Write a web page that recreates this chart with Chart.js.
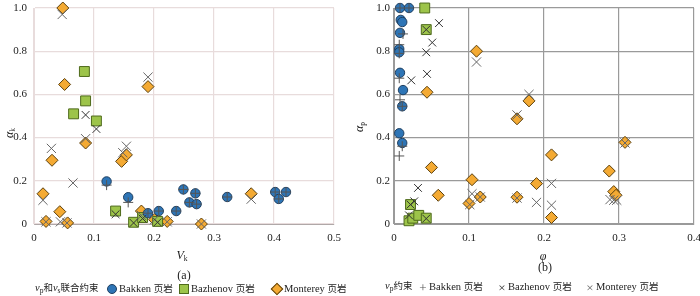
<!DOCTYPE html>
<html>
<head>
<meta charset="utf-8">
<script src="https://cdn.jsdelivr.net/npm/chart.js@4.4.1/dist/chart.umd.min.js"></script>
<style>
body{margin:0;width:700px;height:296px;overflow:hidden;background:#fff;position:relative;
  font-family:"Liberation Serif","Noto Sans CJK SC",serif;color:#222}
canvas{position:absolute;top:0}
.t{position:absolute;white-space:nowrap;line-height:1;font-size:12px;transform:translate(-50%,-50%)}
.l{position:absolute;white-space:nowrap;line-height:1;font-size:10.5px;transform:translateY(-50%)}
.k{font-size:9.5px}
.rot{transform:translate(-50%,-50%) rotate(-90deg)}
sub{font-size:7.5px;vertical-align:-2px;font-style:normal}
.mk{position:absolute;transform:translate(-50%,-50%)}
.c{width:8px;height:8px;border-radius:50%;background:#2E75B6;border:1px solid #1F3F60}
.s{width:8px;height:8px;background:#9DC44A;border:1px solid #4F6B1C}
.d{width:7px;height:7px;background:#F4AA33;border:1px solid #5A3F0C;transform:translate(-50%,-50%) rotate(45deg)}
.x{position:absolute;transform:translate(-50%,-50%);font-size:13px;line-height:1;color:#555}
</style>
</head>
<body>
<canvas id="chartA" width="350" height="250" style="left:0"></canvas>
<canvas id="chartB" width="356" height="250" style="left:350px"></canvas>

<div class="t rot" style="left:10px;top:133px"><i>α</i><sub>k</sub></div>
<div class="t" style="left:182px;top:256px"><i>V</i><sub>k</sub></div>
<div class="t" style="left:184px;top:275px">(a)</div>
<div class="l" style="left:35px;top:289px"><i>v</i><sub>p</sub><span class="k">和</span><i>v</i><sub>s</sub><span class="k">联合约束</span></div>
<div class="mk c" style="left:112px;top:289px"></div>
<div class="l" style="left:119px;top:289px">Bakken <span class="k">页岩</span></div>
<div class="mk s" style="left:184px;top:289px"></div>
<div class="l" style="left:191px;top:289px">Bazhenov <span class="k">页岩</span></div>
<div class="mk d" style="left:277px;top:289px"></div>
<div class="l" style="left:284px;top:289px">Monterey <span class="k">页岩</span></div>

<div class="t rot" style="left:360px;top:127px"><i>α</i><sub>p</sub></div>
<div class="t" style="left:543px;top:256px"><i>φ</i></div>
<div class="t" style="left:545px;top:267px">(b)</div>
<div class="l" style="left:385px;top:287px"><i>v</i><sub>p</sub><span class="k">约束</span></div>
<div class="x" style="left:423px;top:287px">+</div>
<div class="l" style="left:429px;top:287px">Bakken <span class="k">页岩</span></div>
<div class="x" style="left:502px;top:287px;color:#333">×</div>
<div class="l" style="left:508px;top:287px">Bazhenov <span class="k">页岩</span></div>
<div class="x" style="left:590px;top:287px;color:#666">×</div>
<div class="l" style="left:596px;top:287px">Monterey <span class="k">页岩</span></div>

<script>
// (a) V_k vs alpha_k
const bakkenJointA = [[0.121,0.197],[0.157,0.124],[0.19,0.05],[0.208,0.06],[0.237,0.06],[0.249,0.16],[0.259,0.10],[0.269,0.142],[0.271,0.092],[0.322,0.125],[0.402,0.148],[0.408,0.116],[0.42,0.148]]
const bakkenVpA = [[0.121,0.18],[0.157,0.10],[0.19,0.05],[0.208,0.06],[0.237,0.06],[0.249,0.16],[0.259,0.10],[0.269,0.142],[0.271,0.092],[0.322,0.125],[0.402,0.148],[0.408,0.116],[0.42,0.148]]
const bazhenovJointA = [[0.084,0.706],[0.086,0.57],[0.066,0.51],[0.104,0.477],[0.136,0.06],[0.166,0.008],[0.181,0.03],[0.206,0.012]]
const bazhenovVpA = [[0.086,0.505],[0.104,0.44],[0.136,0.045],[0.166,0.005],[0.181,0.025],[0.206,0.008]]
const montereyJointA = [[0.048,1.0],[0.051,0.646],[0.086,0.375],[0.03,0.295],[0.015,0.14],[0.043,0.057],[0.02,0.012],[0.056,0.005],[0.146,0.29],[0.154,0.32],[0.19,0.636],[0.179,0.06],[0.201,0.02],[0.222,0.012],[0.279,0.0],[0.362,0.14]]
const montereyVpA = [[0.047,0.97],[0.029,0.35],[0.015,0.11],[0.065,0.19],[0.086,0.395],[0.154,0.36],[0.148,0.33],[0.19,0.68],[0.044,0.01],[0.02,0.01],[0.055,0.005],[0.179,0.04],[0.201,0.02],[0.222,0.01],[0.279,0.0],[0.362,0.115]]

// (b) phi vs alpha_p
const bakkenJointB = [[0.008,1.0],[0.02,1.0],[0.009,0.945],[0.011,0.935],[0.008,0.885],[0.007,0.81],[0.007,0.795],[0.008,0.70],[0.012,0.62],[0.011,0.545],[0.007,0.42],[0.011,0.375]]
const bakkenVpB = [[0.008,1.0],[0.02,1.0],[0.012,0.88],[0.007,0.83],[0.007,0.79],[0.007,0.675],[0.008,0.575],[0.011,0.545],[0.011,0.36],[0.007,0.315]]
const bazhenovJointB = [[0.041,1.0],[0.043,0.9],[0.022,0.09],[0.02,0.015],[0.025,0.027],[0.033,0.04],[0.043,0.027]]
const bazhenovVpB = [[0.043,0.9],[0.06,0.93],[0.051,0.84],[0.043,0.795],[0.044,0.695],[0.023,0.665],[0.032,0.167],[0.027,0.105],[0.022,0.09],[0.02,0.04],[0.043,0.025]]
const montereyJointB = [[0.11,0.80],[0.044,0.61],[0.05,0.262],[0.059,0.133],[0.104,0.205],[0.1,0.095],[0.115,0.125],[0.164,0.124],[0.164,0.487],[0.18,0.57],[0.21,0.32],[0.19,0.187],[0.21,0.03],[0.287,0.245],[0.308,0.378],[0.293,0.15],[0.296,0.133]]
const montereyVpB = [[0.11,0.75],[0.18,0.60],[0.164,0.505],[0.308,0.375],[0.21,0.188],[0.19,0.1],[0.21,0.087],[0.288,0.113],[0.293,0.11],[0.297,0.11],[0.104,0.14],[0.101,0.09],[0.115,0.125],[0.164,0.12]]

const serif = '"Liberation Serif", serif'
const fmt = (v) => v === 0 ? '0' : v.toFixed(1)
const pts = (arr) => arr.map(p => ({x: p[0], y: p[1]}))

const markerSets = (bk, bz, mt, bkVp, bzVp, mtVp) => [
    // crosses on top
    {label: 'Bakken vp', data: pts(bkVp), pointStyle: 'cross', pointRadius: 5, pointBorderColor: '#555', pointBorderWidth: 1, order: 0, clip: false},
    {label: 'Bazhenov vp', data: pts(bzVp), pointStyle: 'crossRot', pointRadius: 5.5, pointBorderColor: '#333', pointBorderWidth: 1, order: 0, clip: false},
    {label: 'Monterey vp', data: pts(mtVp), pointStyle: 'crossRot', pointRadius: 6.5, pointBorderColor: '#666', pointBorderWidth: 1, order: 0, clip: false},
    {label: 'Bakken', data: pts(bk), pointStyle: 'circle', pointRadius: 4.7, pointBackgroundColor: '#2E75B6', pointBorderColor: '#1F3F60', pointBorderWidth: 1, order: 1, clip: false},
    {label: 'Bazhenov', data: pts(bz), pointStyle: 'rect', pointRadius: 7, pointBackgroundColor: '#9DC44A', pointBorderColor: '#4F6B1C', pointBorderWidth: 1, order: 1, clip: false},
    {label: 'Monterey', data: pts(mt), pointStyle: 'rectRot', pointRadius: 6, pointBackgroundColor: '#F4AA33', pointBorderColor: '#5A3F0C', pointBorderWidth: 1, order: 1, clip: false},
]

const makeChart = (id, xMax, datasets, gridColor, axisColor, yWidth, padRight, tickPad) =>
    new Chart(document.getElementById(id).getContext('2d'), {
        type: 'scatter',
        data: {datasets},
        options: {
            responsive: false,
            animation: false,
            layout: {padding: {top: 6, right: padRight, left: 0, bottom: 0}},
            plugins: {legend: {display: false}, tooltip: {enabled: false}},
            scales: {
                x: {
                    min: 0, max: xMax,
                    afterFit: (s) => { s.height = 26; s.paddingLeft = 0; s.paddingRight = 0 },
                    grid: {color: gridColor, lineWidth: 1.2, drawTicks: false},
                    border: {color: axisColor},
                    ticks: {stepSize: 0.1, callback: fmt, padding: 8, maxRotation: 0, color: '#222', font: {family: serif, size: 11}},
                },
                y: {
                    min: 0, max: 1,
                    afterFit: (s) => { s.width = yWidth; s.paddingTop = 0; s.paddingBottom = 0 },
                    grid: {color: gridColor, lineWidth: 1.2, drawTicks: false},
                    border: {color: gridColor},
                    ticks: {stepSize: 0.2, callback: fmt, padding: tickPad, color: '#222', font: {family: serif, size: 11}},
                },
            },
        },
    })

makeChart('chartA', 0.5, markerSets(bakkenJointA, bazhenovJointA, montereyJointA, bakkenVpA, bazhenovVpA, montereyVpA), '#E8DCDC', '#B0A8A8', 34, 16, 7)
makeChart('chartB', 0.4, markerSets(bakkenJointB, bazhenovJointB, montereyJointB, bakkenVpB, bazhenovVpB, montereyVpB), '#9A9A9A', '#9A9A9A', 44, 12, 4)
</script>
</body>
</html>
